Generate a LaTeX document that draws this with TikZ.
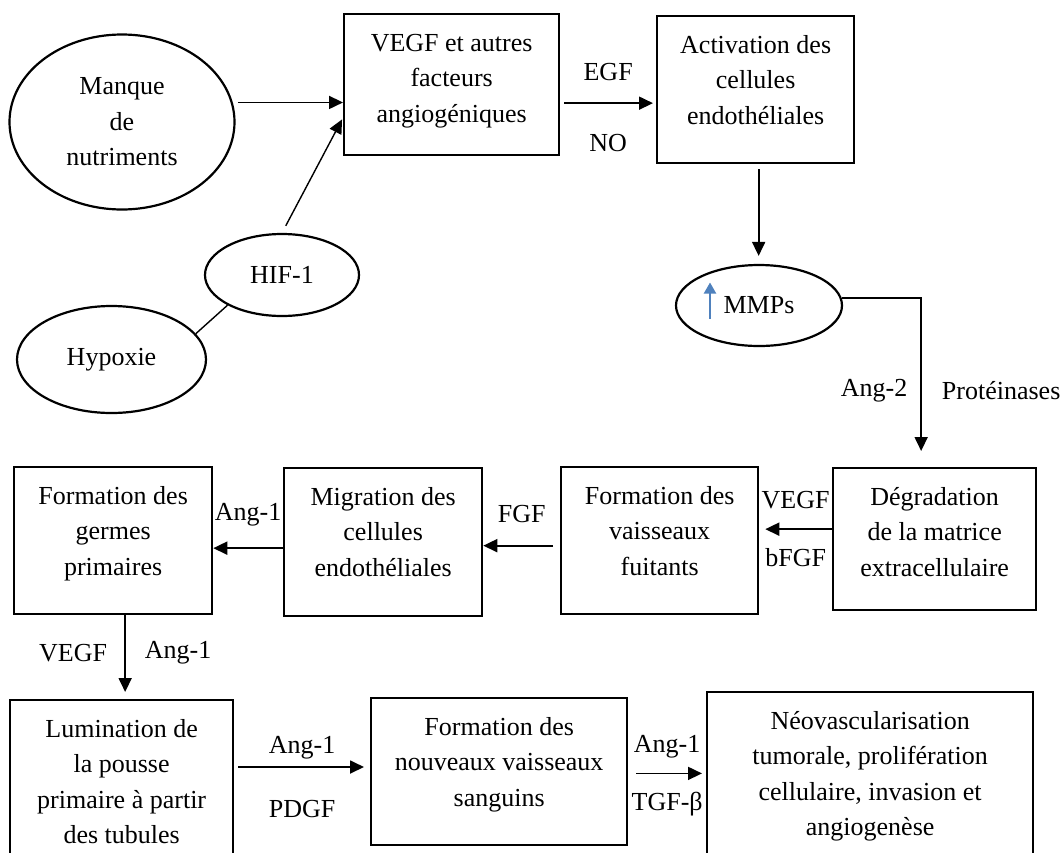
\documentclass[tikz,border=0pt]{standalone}
\usepackage{fontspec}
\setmainfont{Liberation Serif}
\usetikzlibrary{arrows.meta,shapes.geometric}
\definecolor{mmpblue}{HTML}{4F81BD}
\newcommand{\boxtext}[3]{\parbox[c][#2][t]{#1}{\centering\strut #3}}

\begin{document}
\begin{tikzpicture}[x=1pt, y=-1pt, line width=1.8pt,
    every node/.style={font=\fontsize{26}{35.5}\selectfont},
    box/.style={draw, line width=2.3pt, inner sep=12pt, anchor=north west},
    oval/.style={draw, ellipse, line width=2.2pt, inner sep=0pt, align=center},
    arr/.style={-{Triangle[length=14pt, width=13pt]}}]
\useasboundingbox (0,0) rectangle (1063,852);
\clip (0,0) rectangle (1063,852);

\node[oval, minimum width=225pt, minimum height=175pt] (manque) at (122,122) {Manque\\de\\nutriments};
\node[oval, minimum width=154pt, minimum height=82pt] (hif) at (282,275) {HIF-1};
\node[oval, minimum width=189pt, minimum height=107pt] (hypoxie) at (111.5,359.5) {Hypoxie};
\node[oval, minimum width=166pt, minimum height=81pt] (mmp) at (759,305.5) {MMPs};

\node[box] (vegf) at (343,13) {\boxtext{191pt}{117pt}{VEGF et autres\\facteurs\\angiogéniques}};
\node[box] (act) at (656,15) {\boxtext{173pt}{123pt}{Activation des\\cellules\\endothéliales}};
\node[box] (deg) at (832,467) {\boxtext{179pt}{118pt}{Dégradation\\de la matrice\\extracellulaire}};
\node[box] (fuit) at (560,466) {\boxtext{173pt}{123pt}{Formation des\\vaisseaux\\fuitants}};
\node[box] (migr) at (283,467) {\boxtext{174pt}{124pt}{Migration des\\cellules\\endothéliales}};
\node[box] (germ) at (13,466) {\boxtext{174pt}{123pt}{Formation des\\germes\\primaires}};
\node[box] (lum) at (9,699) {\boxtext{199pt}{147pt}{Lumination de\\la pousse\\primaire à partir\\des tubules}};
\node[box] (nouv) at (370,697) {\boxtext{232pt}{122.5pt}{Formation des\\nouveaux vaisseaux\\sanguins}};
\node[box] (neo) at (706,691) {\boxtext{302pt}{155pt}{Néovascularisation\\tumorale, prolifération\\cellulaire, invasion et\\angiogenèse}};

\draw[mmpblue, line width=2pt, -{Triangle[length=11pt, width=12pt]}] ([shift={(-49pt,-13pt)}]mmp.center) -- ++(0,-36);

\draw[arr, shorten <=5pt] (manque.10) -- (manque.10 -| vegf.west);
\draw[arr, line width=1.4pt, shorten <=8pt, shorten >=2pt] (hif.north) -- ([yshift=-33pt]vegf.west);
\draw[line width=1.4pt] (hypoxie.17) -- (hif.209);
\draw[arr, shorten <=4pt, shorten >=3pt] ([yshift=-18.5pt]vegf.east) -- ([yshift=-18.5pt]vegf.east -| act.west)
    node[midway, yshift=31pt] {EGF} node[midway, yshift=-40pt] {NO};
\draw[arr, shorten <=5pt, shorten >=8pt] ([xshift=3pt]act.south) -- ([xshift=3pt]act.south |- mmp.north);
\draw[arr, shorten >=16pt] (mmp.5) -| ([xshift=-13.5pt]deg.north)
    node[pos=0.775, xshift=-47pt] {Ang-2} node[pos=0.775, xshift=80pt] {Protéinases};
\draw[arr, shorten >=6pt] ([yshift=10pt]deg.west) -- ([yshift=10pt]deg.west -| fuit.east)
    node[midway, yshift=29pt] {VEGF} node[midway, yshift=-28pt] {bFGF};
\draw[arr, shorten <=7pt] ([yshift=-5pt]fuit.west) -- ([yshift=-5pt]fuit.west -| migr.east)
    node[midway, yshift=31.5pt] {FGF};
\draw[arr] ([yshift=-6pt]migr.west) -- ([yshift=-6pt]migr.west -| germ.east)
    node[midway, yshift=33pt] {Ang-1};
\draw[arr, shorten >=7pt] ([xshift=12pt]germ.south) -- ([xshift=12pt]germ.south |- lum.north)
    node[midway, xshift=-52pt, yshift=4pt] {VEGF} node[midway, xshift=53pt, yshift=4pt] {Ang-1};
\draw[arr, shorten <=4pt, shorten >=6pt] ([yshift=-68pt]lum.north east) -- ([yshift=-68pt]lum.north east -| nouv.west)
    node[midway, yshift=19pt] {Ang-1} node[midway, yshift=-42pt] {PDGF};
\draw[arr, shorten <=8pt, shorten >=4pt] ([yshift=-2pt]nouv.east) -- ([yshift=-2pt]nouv.east -| neo.west)
    node[midway, yshift=27pt] {Ang-1} node[midway, yshift=-31pt] {TGF-β};
\end{tikzpicture}
\end{document}
